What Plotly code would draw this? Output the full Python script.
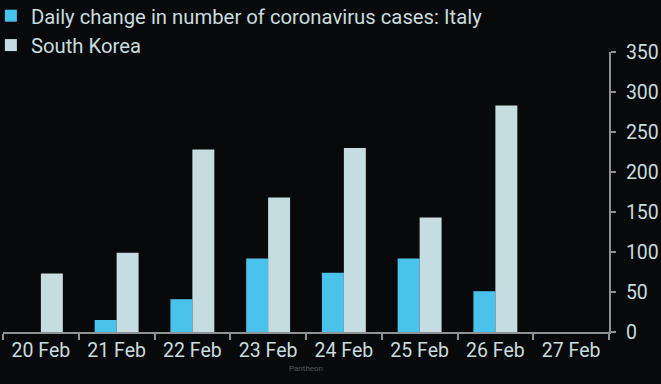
import plotly.graph_objects as go

dates = ["20 Feb", "21 Feb", "22 Feb", "23 Feb", "24 Feb", "25 Feb", "26 Feb", "27 Feb"]
italy = [None, 15, 41, 92, 74, 92, 51, None]
korea = [73, 99, 228, 168, 230, 143, 283, None]
y_ticks = [0, 50, 100, 150, 200, 250, 300, 350]

TXT = "#C8DCDF"
AX = "#8E9496"

fig = go.Figure()
fig.add_trace(go.Bar(x=dates, y=italy, name="Daily change in number of coronavirus cases: Italy",
                     marker=dict(color="#4AC3EC", line=dict(width=0))))
fig.add_trace(go.Bar(x=dates, y=korea, name="South Korea",
                     marker=dict(color="#C5DDE0", line=dict(width=0))))

fig.update_layout(
    width=661, height=384,
    paper_bgcolor="#08090A", plot_bgcolor="#08090A",
    margin=dict(l=3, r=52, t=52, b=52, autoexpand=False),
    barmode="group", bargap=0.42, bargroupgap=0,
    font=dict(family="Roboto", color=TXT, size=18),
    legend=dict(x=-0.02, xref="paper", y=1.2, yref="paper", yanchor="top", xanchor="left",
                font=dict(size=20.3, color=TXT), bgcolor="rgba(0,0,0,0)", tracegroupgap=0,
                itemwidth=30),
    showlegend=True,
    xaxis=dict(type="category", showline=True, linecolor=AX, linewidth=2, ticks="outside",
               tickson="boundaries", ticklen=6, tickcolor=AX, tickwidth=2, showgrid=False,
               tickangle=0, tickfont=dict(size=19.5, color=TXT), fixedrange=True),
    yaxis=dict(side="right", range=[0, 350], tickvals=y_ticks, showline=True, linecolor=AX, linewidth=2,
               ticks="outside", ticklen=5, tickcolor=AX, tickwidth=2, showgrid=False, zeroline=False,
               tickfont=dict(size=19.5, color=TXT), ticklabelstandoff=6, fixedrange=True),
    annotations=[dict(text="Pantheon", x=0.5, xref="paper", y=-0.1286, yref="paper", yanchor="middle",
                      showarrow=False, font=dict(size=8, color="#55595B"))],
)
fig.write_html("out.html", config={"displayModeBar": False},
               post_script="document.body.style.margin='0';document.body.style.background='#08090A';")
